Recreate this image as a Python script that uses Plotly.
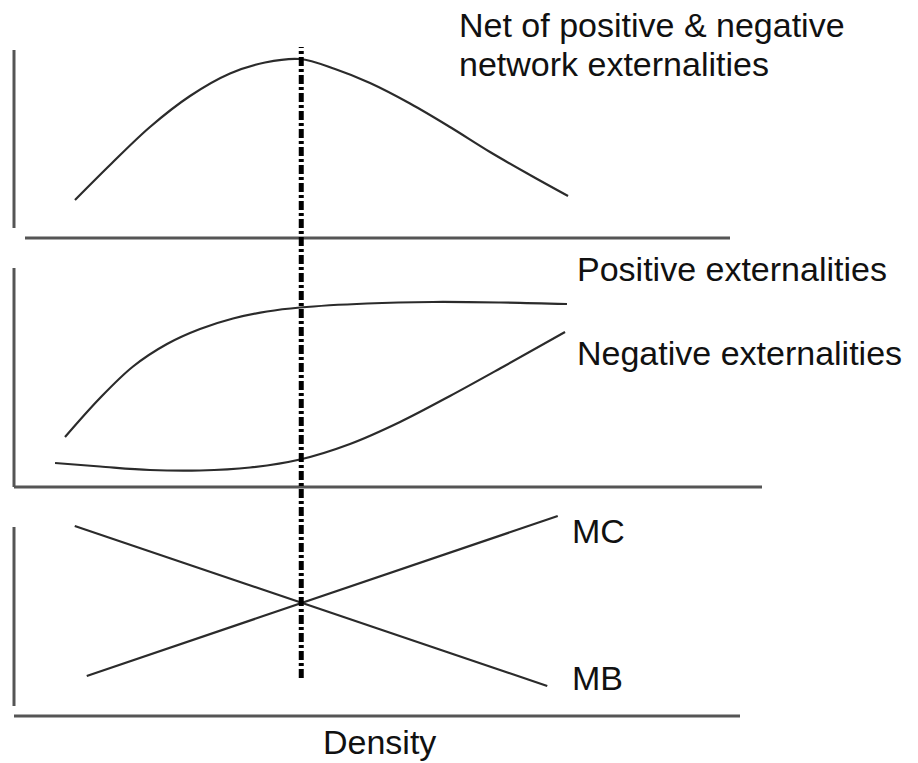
import plotly.graph_objects as go

# ---------------- data (schematic values) ----------------
# Panel 1: net of positive & negative network externalities
net_density = [8.13, 12.8, 18.13, 23.47, 28.8, 33.47, 38.13, 42.8, 47.47, 52.8, 58.13, 63.47, 68.8, 73.87]
net_value   = [19, 36.5, 55.5, 71, 82.25, 87.75, 89.5, 84.5, 77.5, 67.25, 55.5, 43, 31.5, 21]

# Panel 2: positive and negative externalities
pos_density = [6.8, 11.47, 15.87, 20.4, 24.8, 29.2, 33.73, 38.13, 47.07, 55.87, 64.8, 73.73]
pos_value   = [25, 44.5, 60.25, 71.5, 79, 84.25, 87.75, 89.75, 91.75, 92.5, 92.25, 91.5]
neg_density = [5.47, 11.47, 18.13, 24.8, 31.47, 38.13, 44.8, 51.47, 58.13, 64.8, 73.47]
neg_value   = [12, 10.25, 8.5, 8.25, 9.75, 13.75, 21.5, 32.5, 45.5, 59.25, 77.5]

# Panel 3: marginal cost and marginal benefit
mc_density = [9.7, 72.5]
mc_value   = [20, 100]
mb_density = [8.1, 71.1]
mb_value   = [95, 15]

optimal_density = 38.3

# ---------------- figure ----------------
W, H = 918, 763
LINE = "#2b2b2b"
AXIS = "#555555"
FONT = "Liberation Sans, Arial, Helvetica, sans-serif"
FSIZE = 34

def px(x):
    return x / W

def py(y):
    return 1 - y / H

fig = go.Figure()
curve = dict(color=LINE, width=2.2, shape="spline", smoothing=1.0)
straight = dict(color=LINE, width=2.2)

fig.add_trace(go.Scatter(x=net_density, y=net_value, mode="lines", line=curve,
                         yaxis="y", hoverinfo="skip"))
fig.add_trace(go.Scatter(x=pos_density, y=pos_value, mode="lines", line=curve,
                         yaxis="y2", hoverinfo="skip"))
fig.add_trace(go.Scatter(x=neg_density, y=neg_value, mode="lines", line=curve,
                         yaxis="y2", hoverinfo="skip"))
fig.add_trace(go.Scatter(x=mc_density, y=mc_value, mode="lines", line=straight,
                         yaxis="y3", hoverinfo="skip"))
fig.add_trace(go.Scatter(x=mb_density, y=mb_value, mode="lines", line=straight,
                         yaxis="y3", hoverinfo="skip"))

shapes = []
# axis frames (decoration)
def seg(x0, y0, x1, y1, color=AXIS, width=3):
    shapes.append(dict(type="line", xref="paper", yref="paper",
                       x0=px(x0), y0=py(y0), x1=px(x1), y1=py(y1),
                       line=dict(color=color, width=width)))

seg(14, 50, 14, 228)
seg(25, 238, 730, 238)
seg(14, 268, 14, 487)
seg(14, 487, 762, 487)
seg(14, 527, 14, 706)
seg(14, 716, 740, 716)

# optimal density marker line
shapes.append(dict(type="line", xref="x", yref="paper",
                   x0=optimal_density, x1=optimal_density, y0=py(678), y1=py(47),
                   line=dict(color="black", width=5, dash="9px,3px,3px,3px")))

annotations = []
def label(text, x, y, anchor="left"):
    annotations.append(dict(text=text, xref="paper", yref="paper", x=px(x), y=py(y),
                            xanchor=anchor, yanchor="middle", showarrow=False,
                            font=dict(family=FONT, size=FSIZE, color="#111111")))

label("Net of positive &amp; negative", 457, 25)
label("network externalities", 457, 64)
label("Positive externalities", 575, 269)
label("Negative externalities", 575, 353)
label("MC", 570, 531)
label("MB", 570, 678)
label("Density", 379, 742, anchor="center")

hidden = dict(visible=False, showgrid=False, zeroline=False, fixedrange=True)
fig.update_layout(
    width=W, height=H, autosize=False,
    margin=dict(l=0, r=0, t=0, b=0, pad=0),
    paper_bgcolor="white", plot_bgcolor="white",
    showlegend=False,
    xaxis=dict(range=[-14 / 7.5, (W - 14) / 7.5], domain=[0, 1], anchor="y", **hidden),
    yaxis=dict(range=[0, 100], domain=[(H - 238) / H, (H - 38) / H], anchor="x", **hidden),
    yaxis2=dict(range=[0, 100], domain=[(H - 487) / H, (H - 287) / H], anchor="x", **hidden),
    yaxis3=dict(range=[0, 105], domain=[(H - 716) / H, (H - 506) / H], anchor="x", **hidden),
    shapes=shapes,
    annotations=annotations,
)

fig.write_html(
    "out.html",
    config={"displayModeBar": False, "staticPlot": True},
    post_script="document.body.style.margin='0';document.body.style.overflow='hidden';",
)
